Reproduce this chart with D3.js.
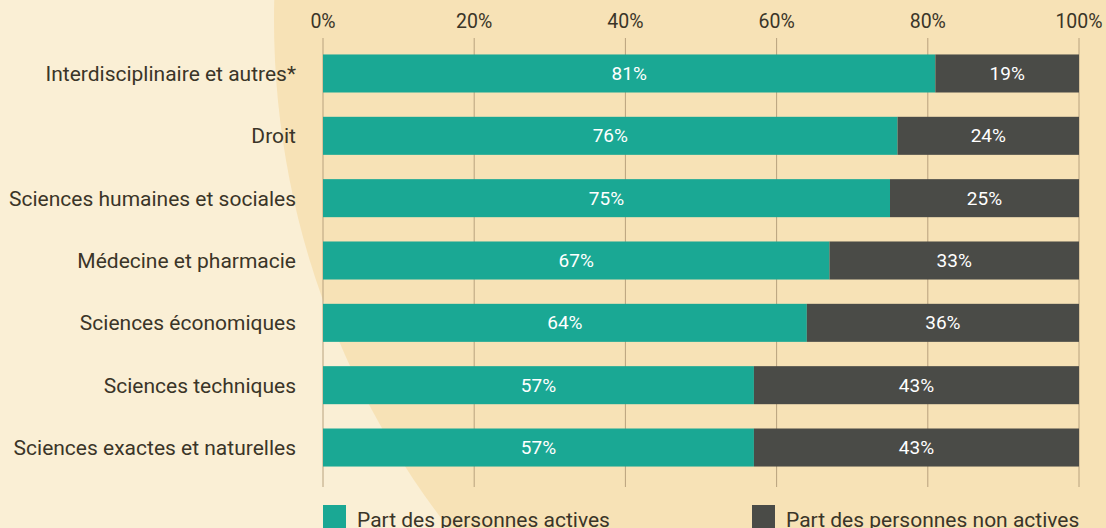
<!DOCTYPE html>
<html><head><meta charset="utf-8">
<script src="https://cdn.jsdelivr.net/npm/d3@7"></script>
<style>
html,body{margin:0;padding:0;background:#faefd5;overflow:hidden;}
svg{display:block;font-family:Roboto,"Noto Sans",sans-serif;}
</style></head>
<body>
<svg id="c" width="1106" height="528"></svg>
<script>
const categories = ["Interdisciplinaire et autres*","Droit","Sciences humaines et sociales","Médecine et pharmacie","Sciences économiques","Sciences techniques","Sciences exactes et naturelles"];
const actives = [81,76,75,67,64,57,57];
const nonActives = [19,24,25,33,36,43,43];
const tickValues = [0,20,40,60,80,100];
const seriesNames = ["Part des personnes actives","Part des personnes non actives"];
const colors = ["#1aa894","#4a4b47"];

const svg = d3.select("#c");
const W = 1106, H = 528;
svg.append("rect").attr("width",W).attr("height",H).attr("fill","#faefd5");
svg.append("circle").attr("cx",1100).attr("cy",20).attr("r",826).attr("fill","#f7e2b6");

const x = d3.scaleLinear().domain([0,100]).range([323,1079]);
const y = d3.scaleBand().domain(categories).range([42,479]).paddingInner(0.39).paddingOuter(0.2);

const g = svg.append("g");
g.selectAll("line.grid").data(tickValues).join("line")
  .attr("x1",d=>x(d)).attr("x2",d=>x(d)).attr("y1",38).attr("y2",487)
  .attr("stroke","#b8a27e").attr("stroke-width",1);
g.selectAll("text.tick").data(tickValues).join("text")
  .attr("x",d=>x(d)).attr("y",28).attr("text-anchor","middle")
  .attr("font-size",19.5).attr("fill","#3a3528").text(d=>d+"%");

g.selectAll("text.cat").data(categories).join("text")
  .attr("x",296).attr("y",d=>y(d)+y.bandwidth()/2).attr("dy","0.35em")
  .attr("text-anchor","end").attr("font-size",21).attr("fill","#3a3528").text(d=>d);

const rows = categories.map((c,i)=>({c, a:actives[i], n:nonActives[i]}));
g.selectAll("rect.a").data(rows).join("rect")
  .attr("x",x(0)).attr("y",d=>y(d.c)).attr("width",d=>x(d.a)-x(0)).attr("height",y.bandwidth()).attr("fill",colors[0]);
g.selectAll("rect.n").data(rows).join("rect")
  .attr("x",d=>x(d.a)).attr("y",d=>y(d.c)).attr("width",d=>x(d.a+d.n)-x(d.a)).attr("height",y.bandwidth()).attr("fill",colors[1]);
g.selectAll("text.la").data(rows).join("text")
  .attr("x",d=>(x(0)+x(d.a))/2).attr("y",d=>y(d.c)+y.bandwidth()/2).attr("dy","0.35em")
  .attr("text-anchor","middle").attr("font-size",19).attr("fill","#ffffff").text(d=>d.a+"%");
g.selectAll("text.ln").data(rows).join("text")
  .attr("x",d=>(x(d.a)+x(d.a+d.n))/2).attr("y",d=>y(d.c)+y.bandwidth()/2).attr("dy","0.35em")
  .attr("text-anchor","middle").attr("font-size",19).attr("fill","#ffffff").text(d=>d.n+"%");

const legX = [323,752];
const lg = svg.append("g");
seriesNames.forEach((s,i)=>{
  lg.append("rect").attr("x",legX[i]).attr("y",505).attr("width",23).attr("height",30).attr("fill",colors[i]);
  lg.append("text").attr("x",legX[i]+34).attr("y",527).attr("font-size",21).attr("fill","#3a3528").text(s);
});
</script>
</body></html>
